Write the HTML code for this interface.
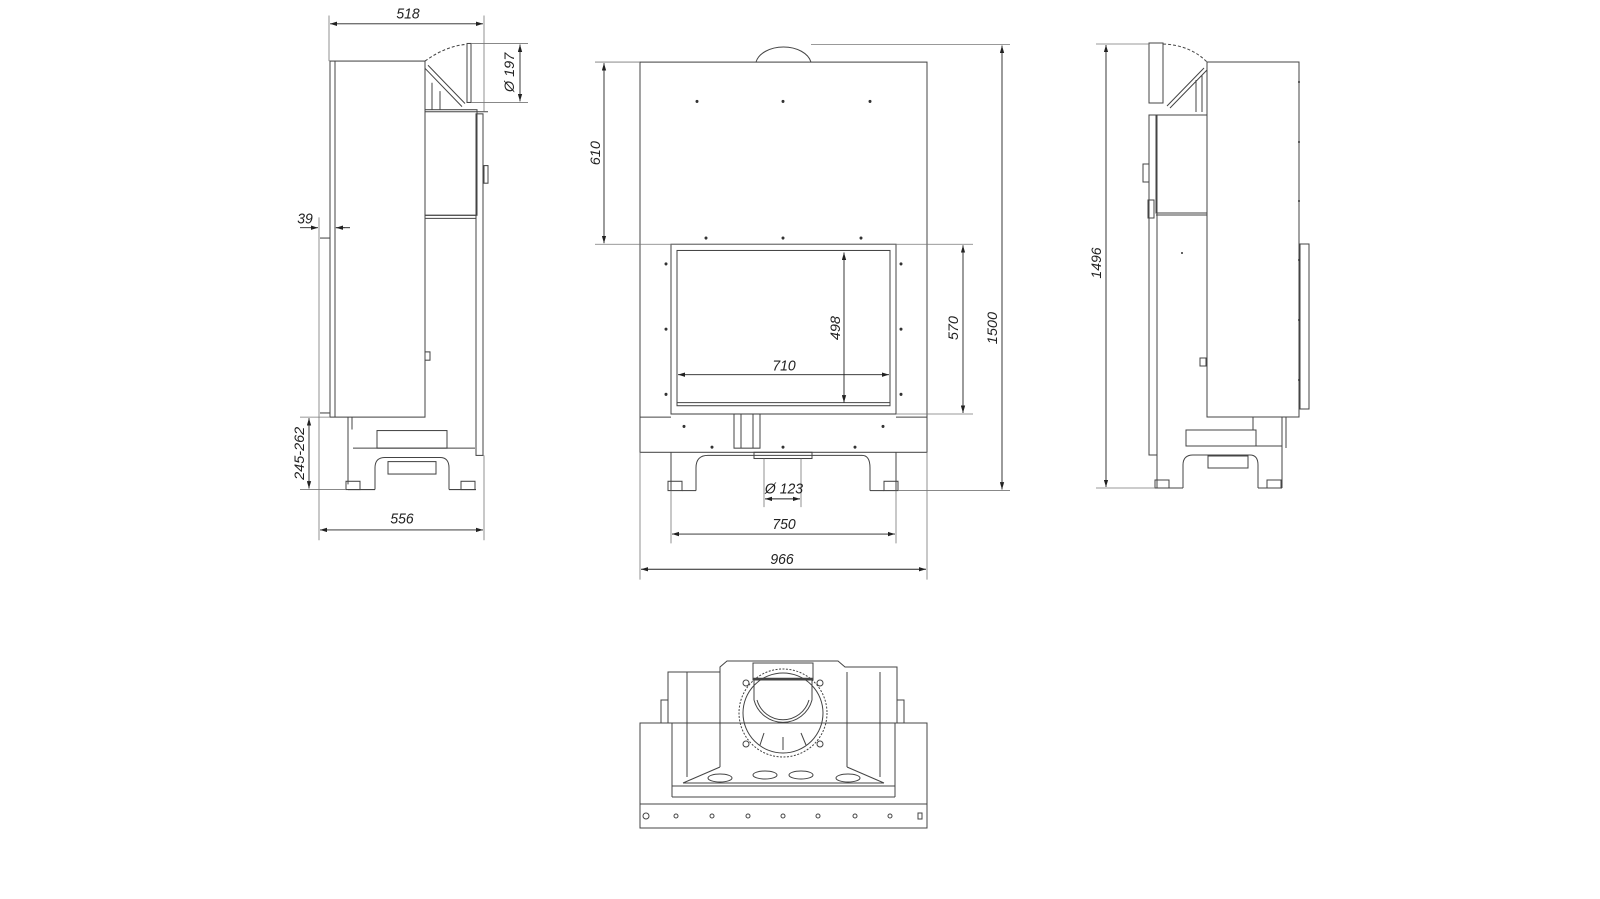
<!DOCTYPE html>
<html><head><meta charset="utf-8"><style>
html,body{margin:0;padding:0;background:#fff;}
svg{display:block;}
text{font-family:"Liberation Sans",sans-serif;font-style:italic;font-size:14px;fill:#222;}
</style></head><body>
<svg width="1600" height="899" viewBox="0 0 1600 899" xmlns="http://www.w3.org/2000/svg">
<defs>
<marker id="a" viewBox="0 0 10 6" refX="10" refY="3" markerWidth="8" markerHeight="5" orient="auto-start-reverse"><path d="M0,0L10,3L0,6z" fill="#222"/></marker>
</defs>
<g transform="matrix(1,0,0,1.035,0,0)">
<g fill="none" stroke="#444" stroke-width="1">
<rect x="640" y="60" width="287" height="377"/>
<path d="M756,60 A28,18 0 0 1 811,60"/>
<rect x="671" y="236" width="225" height="164"/>
<rect x="677" y="242" width="213" height="150"/>
<line x1="640" y1="403" x2="671" y2="403"/><line x1="896" y1="403" x2="927" y2="403"/>
<line x1="677" y1="389" x2="890" y2="389"/>
<rect x="734" y="400" width="26" height="33"/><line x1="741" y1="400" x2="741" y2="433"/><line x1="753" y1="400" x2="753" y2="433"/>
<rect x="754" y="437" width="58" height="6"/>
<line x1="671" y1="437" x2="671" y2="474"/><line x1="896" y1="437" x2="896" y2="474"/>
<path d="M696,474 V452 Q696,440 708,440 H862 Q870,440 870,452 V474"/>
<rect x="668" y="465" width="14" height="9"/><rect x="884" y="465" width="14" height="9"/>
<line x1="696" y1="474" x2="682" y2="474"/><line x1="870" y1="474" x2="884" y2="474"/>
</g>
<g fill="#333">
<circle cx="697" cy="98" r="1.5"/><circle cx="783" cy="98" r="1.5"/><circle cx="870" cy="98" r="1.5"/>
<circle cx="706" cy="230" r="1.5"/><circle cx="783" cy="230" r="1.5"/><circle cx="861" cy="230" r="1.5"/>
<circle cx="666" cy="255" r="1.5"/><circle cx="666" cy="318" r="1.5"/><circle cx="666" cy="381" r="1.5"/>
<circle cx="901" cy="255" r="1.5"/><circle cx="901" cy="318" r="1.5"/><circle cx="901" cy="381" r="1.5"/>
<circle cx="684" cy="412" r="1.5"/><circle cx="883" cy="412" r="1.5"/>
<circle cx="712" cy="432" r="1.5"/><circle cx="783" cy="432" r="1.5"/><circle cx="855" cy="432" r="1.5"/>
</g>
<g stroke="#777" stroke-width="0.8" fill="none">
<line x1="811" y1="43" x2="1010" y2="43"/>
<line x1="595" y1="60" x2="640" y2="60"/>
<line x1="595" y1="236" x2="973" y2="236"/>
<line x1="896" y1="400" x2="973" y2="400"/>
<line x1="898" y1="474" x2="1010" y2="474"/>
<line x1="640" y1="437" x2="640" y2="560"/><line x1="927" y1="437" x2="927" y2="560"/>
<line x1="671" y1="474" x2="671" y2="525"/><line x1="896" y1="474" x2="896" y2="525"/>
<line x1="764" y1="443" x2="764" y2="490"/><line x1="801" y1="443" x2="801" y2="490"/>
</g>
<g stroke="#222" stroke-width="0.9" fill="none" marker-start="url(#a)" marker-end="url(#a)">
<line x1="604" y1="61" x2="604" y2="235"/>
<line x1="844" y1="244" x2="844" y2="389"/>
<line x1="678" y1="362" x2="889" y2="362"/>
<line x1="963" y1="237" x2="963" y2="399"/>
<line x1="1002" y1="44" x2="1002" y2="473"/>
<line x1="765" y1="482" x2="800" y2="482"/>
<line x1="672" y1="516" x2="895" y2="516"/>
<line x1="641" y1="550" x2="926" y2="550"/>
</g>
<text transform="translate(600,148) rotate(-90)" text-anchor="middle">610</text>
<text transform="translate(840,317) rotate(-90)" text-anchor="middle">498</text>
<text x="784" y="366" text-anchor="middle" dy="-8">710</text>
<text transform="translate(958,317) rotate(-90)" text-anchor="middle">570</text>
<text transform="translate(997,317) rotate(-90)" text-anchor="middle">1500</text>
<text x="784" y="477" text-anchor="middle">Ø 123</text>
<text x="784" y="511" text-anchor="middle">750</text>
<text x="782" y="545" text-anchor="middle">966</text>

<g fill="none" stroke="#444" stroke-width="1">
<rect x="330" y="59" width="95" height="344"/>
<line x1="335" y1="59" x2="335" y2="403"/>
<path d="M425,59 Q445,45 465,43" stroke-dasharray="3,2"/>
<rect x="467" y="42" width="4" height="57"/>
<line x1="425" y1="66" x2="462" y2="103"/><line x1="428" y1="63" x2="465" y2="100"/>
<line x1="432" y1="80" x2="432" y2="106"/><line x1="440" y1="88" x2="440" y2="106"/>
<rect x="425" y="106" width="52" height="102"/>
<line x1="425" y1="108" x2="488" y2="108"/>
<rect x="476" y="110" width="7" height="330"/>
<rect x="484" y="160" width="4" height="17"/>
<line x1="425" y1="208" x2="476" y2="208"/>
<line x1="425" y1="211" x2="476" y2="211"/>
<rect x="425" y="340" width="5" height="8"/>
<line x1="320" y1="230" x2="330" y2="230"/><line x1="320" y1="399" x2="330" y2="399"/>
<line x1="348" y1="403" x2="348" y2="468"/><line x1="352" y1="403" x2="352" y2="415"/>
<line x1="353" y1="433" x2="475" y2="433"/>
<rect x="377" y="416" width="70" height="17"/>
<path d="M375,473 V452 Q375,442 385,442 H440 Q449,442 449,452 V473"/>
<rect x="388" y="446" width="48" height="12"/>
<line x1="348" y1="473" x2="375" y2="473"/><line x1="449" y1="473" x2="476" y2="473"/>
<rect x="346" y="465" width="14" height="8"/><rect x="461" y="465" width="14" height="8"/>
</g>
<g stroke="#777" stroke-width="0.8" fill="none">
<line x1="329" y1="15" x2="329" y2="59"/><line x1="484" y1="15" x2="484" y2="108"/>
<line x1="471" y1="42" x2="528" y2="42"/><line x1="471" y1="99" x2="528" y2="99"/>
<line x1="319" y1="210" x2="319" y2="522"/><line x1="484" y1="440" x2="484" y2="522"/>
<line x1="300" y1="403" x2="330" y2="403"/><line x1="300" y1="473" x2="346" y2="473"/>
<line x1="335" y1="220" x2="345" y2="220"/>
</g>
<g stroke="#222" stroke-width="0.9" fill="none" marker-start="url(#a)" marker-end="url(#a)">
<line x1="330" y1="23" x2="483" y2="23"/>
<line x1="520" y1="43" x2="520" y2="98"/>
<line x1="309" y1="404" x2="309" y2="472"/>
<line x1="320" y1="512" x2="483" y2="512"/>
</g>
<g stroke="#222" stroke-width="0.9" marker-end="url(#a)">
<line x1="300" y1="220" x2="318" y2="220"/><line x1="350" y1="220" x2="336" y2="220"/>
</g>
<text x="408" y="18" text-anchor="middle">518</text>
<text transform="translate(514,70) rotate(-90)" text-anchor="middle">Ø 197</text>
<text x="305" y="216" text-anchor="middle">39</text>
<text transform="translate(304,438) rotate(-90)" text-anchor="middle">245-262</text>
<text x="402" y="506" text-anchor="middle">556</text>
</g>

<g fill="none" stroke="#444" stroke-width="1">
<rect x="1207" y="62" width="92" height="355"/>
<rect x="1300" y="244" width="9" height="165"/>
<path d="M1163,44 Q1190,45 1207,62" stroke-dasharray="3,2"/>
<rect x="1149" y="43" width="14" height="60"/>
<line x1="1207" y1="70" x2="1170" y2="108"/><line x1="1204" y1="68" x2="1167" y2="106"/>
<line x1="1196" y1="80" x2="1196" y2="112"/><line x1="1202" y1="75" x2="1202" y2="112"/>
<rect x="1156" y="115" width="51" height="98"/>
<line x1="1156" y1="215" x2="1207" y2="215"/>
<rect x="1149" y="115" width="8" height="340"/>
<rect x="1143" y="164" width="6" height="18"/><rect x="1148" y="200" width="6" height="18"/>
<rect x="1200" y="358" width="6" height="8"/>
<line x1="1157" y1="213" x2="1157" y2="488"/>
<rect x="1186" y="430" width="70" height="16"/>
<line x1="1186" y1="446" x2="1282" y2="446"/>
<line x1="1282" y1="417" x2="1282" y2="488"/><line x1="1286" y1="417" x2="1286" y2="448"/>
<line x1="1253" y1="417" x2="1253" y2="430"/>
<path d="M1183,488 V465 Q1183,455 1193,455 H1250 Q1258,455 1258,465 V488"/>
<rect x="1208" y="456" width="40" height="12"/>
<line x1="1157" y1="488" x2="1183" y2="488"/><line x1="1258" y1="488" x2="1282" y2="488"/>
<rect x="1155" y="480" width="14" height="8"/><rect x="1267" y="480" width="14" height="8"/>
</g>
<g fill="#333"><circle cx="1182" cy="253" r="1"/>
<circle cx="1299" cy="82" r="1"/><circle cx="1299" cy="142" r="1"/><circle cx="1299" cy="201" r="1"/><circle cx="1299" cy="260" r="1"/><circle cx="1299" cy="320" r="1"/><circle cx="1299" cy="380" r="1"/></g>
<g stroke="#777" stroke-width="0.8"><line x1="1096" y1="44" x2="1149" y2="44"/><line x1="1096" y1="488" x2="1155" y2="488"/></g>
<line x1="1106" y1="45" x2="1106" y2="487" stroke="#222" stroke-width="0.9" marker-start="url(#a)" marker-end="url(#a)"/>
<text transform="translate(1101,263) rotate(-90)" text-anchor="middle">1496</text>

<g fill="none" stroke="#444" stroke-width="1">
<path d="M668,723 V672 H720 V667 H720 L727,661 H838 L845,667 H897 V723"/>
<rect x="640" y="723" width="287" height="81"/>
<rect x="640" y="804" width="287" height="24"/>
<line x1="672" y1="797" x2="895" y2="797"/>
<line x1="672" y1="786" x2="895" y2="786"/>
<line x1="672" y1="723" x2="672" y2="797"/><line x1="895" y1="723" x2="895" y2="797"/>
<line x1="687" y1="672" x2="687" y2="777"/><line x1="720" y1="672" x2="720" y2="767"/>
<line x1="847" y1="672" x2="847" y2="767"/><line x1="880" y1="672" x2="880" y2="777"/>
<line x1="720" y1="767" x2="683" y2="783"/><line x1="847" y1="767" x2="884" y2="783"/>
<line x1="683" y1="783" x2="884" y2="783"/>
<rect x="661" y="700" width="7" height="23"/><rect x="897" y="700" width="7" height="23"/>
<rect x="753" y="663" width="60" height="17"/>
<line x1="753" y1="679" x2="813" y2="679" stroke-width="2.5"/>
<circle cx="783" cy="713" r="44" stroke-dasharray="2,1.5"/>
<circle cx="783" cy="713" r="40"/>
<path d="M754,700 A30,30 0 0 0 812,700"/>
<path d="M757,700 A27,27 0 0 0 809,700"/>
<line x1="754" y1="680" x2="754" y2="700"/><line x1="812" y1="680" x2="812" y2="700"/>
<line x1="764" y1="733" x2="760" y2="745"/><line x1="783" y1="737" x2="783" y2="750"/><line x1="801" y1="733" x2="806" y2="745"/>
<ellipse cx="720" cy="778" rx="12" ry="4"/><ellipse cx="765" cy="775" rx="12" ry="4"/>
<ellipse cx="801" cy="775" rx="12" ry="4"/><ellipse cx="848" cy="778" rx="12" ry="4"/>
<circle cx="746" cy="683" r="3"/><circle cx="820" cy="683" r="3"/><circle cx="746" cy="744" r="3"/><circle cx="820" cy="744" r="3"/>
<circle cx="646" cy="816" r="3"/>
<circle cx="676" cy="816" r="2"/><circle cx="712" cy="816" r="2"/><circle cx="748" cy="816" r="2"/><circle cx="783" cy="816" r="2"/><circle cx="818" cy="816" r="2"/><circle cx="855" cy="816" r="2"/><circle cx="890" cy="816" r="2"/>
<rect x="918" y="813" width="4" height="6"/>
</g>
</svg>
</body></html>
